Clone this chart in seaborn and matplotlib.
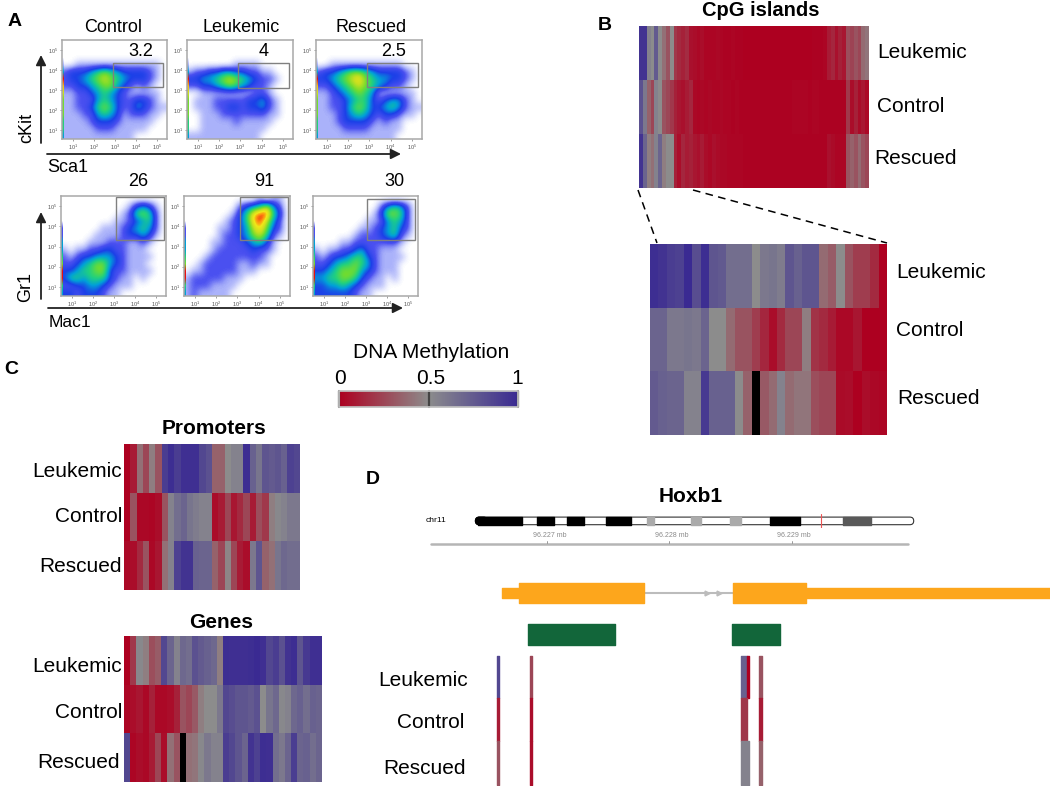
import numpy as np
import pandas as pd
import seaborn as sns
import matplotlib.pyplot as plt
from matplotlib.cm import ScalarMappable
from matplotlib.colors import LinearSegmentedColormap, Normalize
from matplotlib.patches import Rectangle, FancyBboxPatch

samples = ['Leukemic', 'Control', 'Rescued']

# methylation per column (None = no data, drawn black)
cpg_leukemic = [.95, .95, .55, .5, .75, .5, .4, .3, .5, .2, .15, .12, .16, .06, .05, .03, .05, .02, .02, .02,
                .03, .02, .01, .01, .02, .01, .01, 0, 0, 0, 0, 0, 0, 0, 0, 0, 0, 0, 0, 0,
                0, 0, 0, 0, 0, .01, .01, .01, .02, .1, .14, .06, .12, .08, .28, .24, .3, .25, .38, .42]
cpg_control = [.8, .6, .35, .25, .55, .5, .3, .25, .2, .12, .08, .06, .1, .14, .03, .02, .03, .02, .03, .02,
               .02, .03, .02, .02, .01, .02, .01, .01, .01, .01, .01, .01, .01, .01, .01, .01, .01, .01, .01, .01,
               .02, .02, .02, .02, .01, .02, .02, .01, .01, .01, .01, .01, .01, .01, .2, .05, .12, .04, .08, .03]
cpg_rescued = [.95, .7, .45, .4, .55, .7, .45, .5, .5, .12, .05, .14, .1, .12, .08, .06, .1, .05, .03, .06,
               .04, .03, .03, .02, .02, .02, .02, .01, .01, .01, .01, .01, .01, .01, .01, .01, .01, .01, .01, .01,
               .01, .01, .01, .01, .01, .01, .01, .01, .01, .06, .04, .02, .02, .02, .3, .35, .3, .38, .3, .25]

zoom_leukemic = [.98, .95, .9, .88, 1, .82, .98, .78, .76, .65, .65, .65, .5, .6,
                 .62, .58, .78, .72, .78, .78, .38, .33, .5, .3, .22, .22, .15, 0]
zoom_control = [.7, .7, .6, .6, .62, .6, .7, .5, .5, .38, .3, .3, .22, .14,
                .05, .15, .25, .25, .45, .18, .15, .1, .03, .03, .08, 0, 0, 0]
zoom_rescued = [.75, .72, .7, .7, .55, .55, .92, .72, .72, .72, .5, .35, None, .32,
                .38, .55, .38, .42, .42, .28, .25, .25, .04, .05, 0, .05, .03, .02]

prom_leukemic = [0, .1, .4, .25, .45, .3, .9, .98, .9, .97, .97, .97, .85, .8,
                 .35, .35, .5, .55, .55, .98, .72, .62, .78, .75, .78, .72, .88, .85]
prom_control = [0, .3, .03, .03, .02, .05, .3, .55, .65, .7, .62, .58, .55, .55,
                .05, .1, .25, .08, .15, .25, .1, .28, .2, .45, .52, .55, .6, .6]
prom_rescued = [.03, .05, .15, .3, .03, .08, .4, .55, .88, .95, .95, .72, .7, .7,
                .35, .25, .48, .25, .1, .05, .6, .78, .35, .4, .62, .68, .66, .66]

gene_leukemic = [0, .2, .52, .45, .28, .33, .85, .7, .55, .68, .65, .8, .75, .72, .68, .45,
                 .98, .97, .97, .97, .98, 1, .97, .85, .9, .8, .95, .98, .78, .92, .97, .97]
gene_control = [.02, .05, .08, .03, .12, .03, .03, .05, .12, .3, .25, .32, .45, .5, .5, .6,
                .85, .82, .78, .78, .75, .8, .5, .62, .68, .52, .55, .68, .72, .65, .72, .7]
gene_rescued = [.85, .02, .05, .03, .1, .25, .05, .4, .3, None, .4, .42, .52, .6, .55, .55,
                .9, .85, .78, .7, .95, .88, .98, .97, .65, .6, .7, .9, .7, .72, .65, .7]

# flow cytometry: coarse density of the dots per cell, 0 empty to 9 red
kit_control = ['0000000000000000', '0000000000000000', '0000000000000000', '0011111111111110',
               '2333456543333210', '2334567654333210', '2233456643212100', '1122345432111110',
               '1122245432233210', '1122356532243211', '1112245431222110', '1111233321111100',
               '1111122211111000', '1111111111100000']
kit_leukemic = ['0000000000000000', '0000000000000000', '0000000000000000', '0000000111100000',
                '1223344332211000', '3344567654322100', '2233456543221000', '0011111111221000',
                '0111222223342100', '0111223323342100', '0011122222221100', '0011111211111000',
                '0011111111110000', '1111111111100000']
kit_rescued = ['0000000000000000', '0000000000000000', '0000000000000000', '0011111111111000',
               '2334566543333210', '3345678654433210', '2234567654322100', '1123456541111110',
               '1122345532344210', '1122356533454211', '1112345432332110', '1112333321211000',
               '1111222211111000', '1111111111110000']
gr_control = ['0000000000000000', '0000000000134310', '0000000001256520', '0000000011234520',
              '0000001112345420', '0000011112334310', '0000111222112100', '1011223322111000',
              '2123344432111100', '2234566432111000', '3345566322111100', '3554555321101000',
              '2233443211100000', '3323332110000000']
gr_leukemic = ['0000000000010110', '0000000023457420', '0000000135899530', '0000001235897420',
               '0000011234786320', '0000012234675210', '0000112223453100', '0000122222322100',
               '0001222222221000', '0012222211211000', '0112222211100000', '1222221110000000',
               '1222111100000000', '1211111000000000']
gr_rescued = ['0000000000000000', '0000000000245420', '0000000001366520', '0000000011245420',
              '0000000112345320', '0000001222345210', '0000112222222100', '1011223422111000',
              '2123345532111100', '2234556542111000', '3345666432111000', '4455665321101000',
              '3344543211100000', '3333332110000000']
kit_edge = [0, 0, 0, 1, 4, 9, 8, 7, 6, 6, 6, 5, 5, 4]
gr_edge = [0, 0, 0, 0, 2, 2, 4, 4, 5, 6, 9, 9, 5, 4]

kit_percent = ['3.2', '4', '2.5']
gr_percent = ['26', '91', '30']
facs_titles = ['Control', 'Leukemic', 'Rescued']
kit_gates = [(2.9, 5.28, 3.15, 4.35), (2.9, 5.28, 3.1, 4.35), (2.9, 5.28, 3.15, 4.35)]
gr_gates = [(3.1, 5.4, 3.3, 5.45), (3.1, 5.4, 3.3, 5.45), (3.05, 5.35, 3.3, 5.35)]
decade_ticks = [1, 2, 3, 4, 5]
decade_labels = ['$10^1$', '$10^2$', '$10^3$', '$10^4$', '$10^5$']

# panel D, genome positions in Mb
idio_black = [(478, 522.1), (537.1, 553.8), (567, 583.8), (605.8, 630.5), (769.7, 799.6)]
idio_gray = [(647.2, 654.3), (690.8, 700.5), (729.6, 740.6)]
idio_dark = [(843.3, 871)]
scale_mb = [96.227, 96.228, 96.229]
scale_span_mb = [96.22605, 96.229946]
utr_mb = [(96.22663, 96.22677), (96.22912, 96.23111)]
exon_mb = [(96.22677, 96.22779), (96.22852, 96.22912)]
intron_mb = (96.22779, 96.22852)
arrow_mb = [96.228306, 96.228406]
cpg_mb = [(96.22685, 96.22756), (96.22851, 96.22890)]
site_mb = [(96.226590, 96.226606), (96.226859, 96.226875), (96.228585, 96.228632), (96.228632, 96.228650), (96.228730, 96.228755)]
site_leukemic = [.85, .25, .72, 1, .3]
site_control = [.1, .05, .2, None, .1]
site_rescued = [.3, .05, .55, .55, .35]

sns.set_theme(style='white')
plt.rcParams['font.family'] = ['Liberation Sans', 'DejaVu Sans']
plt.rcParams['mathtext.default'] = 'regular'

W, H = 1050, 786
fig = plt.figure(figsize=(W / 100, H / 100), dpi=100)
meth_cmap = LinearSegmentedColormap.from_list('meth', ['#ad0020', '#8c8c8c', '#3a2a92'])
facs_cmap = LinearSegmentedColormap.from_list('facs', [(0, '#ffffff'), (.11, '#aab2fa'), (.22, '#4a50f0'),
                                                       (.33, '#1c40e8'), (.44, '#00a0d8'), (.55, '#20d080'),
                                                       (.66, '#70dc30'), (.77, '#c8e020'), (.86, '#f0e818'),
                                                       (.93, '#ff8a10'), (1, '#e81010')])


def axes_px(x0, y0, x1, y1):
    return fig.add_axes([x0 / W, 1 - y1 / H, (x1 - x0) / W, (y1 - y0) / H])


def label(x, y, s, size=15, ha='center', **kw):
    fig.text(x / W, 1 - y / H, s, fontsize=size, ha=ha, va='center', color='black', **kw)


def arrow(x0, y0, x1, y1):
    fig.add_artist(plt.Annotation('', xy=(x1 / W, 1 - y1 / H), xytext=(x0 / W, 1 - y0 / H),
                                  xycoords='figure fraction', textcoords='figure fraction',
                                  arrowprops=dict(arrowstyle='-|>', color='#222222', lw=1.3,
                                                  mutation_scale=15, shrinkA=0, shrinkB=0)))


def meth_heatmap(box, rows):
    ax = axes_px(*box)
    df = pd.DataFrame(rows, index=samples, dtype=float)
    sns.heatmap(df, cmap=meth_cmap, vmin=0, vmax=1, cbar=False, xticklabels=False, yticklabels=False, ax=ax)
    ax.set_facecolor('black')
    ax.set_xlabel('')
    ax.set_ylabel('')
    return ax


def facs_panel(box, grid, edge, gate):
    ax = axes_px(*box)
    density = np.array([[int(c) for c in row] for row in grid], dtype=float)
    lims = (0.48, 5.48, 0.55, 5.5)
    ax.imshow(density, cmap=facs_cmap, vmin=0, vmax=9, extent=lims, aspect='auto', interpolation='bicubic')
    ax.imshow(np.array(edge, dtype=float).reshape(-1, 1), cmap=facs_cmap, vmin=0, vmax=9,
              extent=(0.48, 0.56, 0.55, 5.5), aspect='auto', interpolation='bilinear')
    ax.set_xlim(lims[0], lims[1])
    ax.set_ylim(lims[2], lims[3])
    ax.add_patch(Rectangle((gate[0], gate[2]), gate[1] - gate[0], gate[3] - gate[2], fill=False,
                           ec='#808080', lw=1))
    ax.set_xticks(decade_ticks, decade_labels)
    ax.set_yticks(decade_ticks, decade_labels)
    ax.tick_params(labelsize=4, length=1.5, width=.4, pad=1.5, colors='#555555', bottom=True, left=True)
    for s in ax.spines.values():
        s.set_color('#a8a8a8')
        s.set_linewidth(1.1)
    return ax


# panel A
kit_boxes = [(62, 40, 167, 139), (187, 40, 293, 139), (316, 40, 422, 139)]
gr_boxes = [(61, 196, 166, 296), (184, 196, 290, 296), (313, 196, 418, 296)]
for box, grid, gate in zip(kit_boxes, [kit_control, kit_leukemic, kit_rescued], kit_gates):
    facs_panel(box, grid, kit_edge, gate)
for box, grid, gate in zip(gr_boxes, [gr_control, gr_leukemic, gr_rescued], gr_gates):
    facs_panel(box, grid, gr_edge, gate)

for x, s in zip([113, 241, 371], facs_titles):
    label(x, 27, s, size=13)
for x, s in zip([141, 264, 394], kit_percent):
    label(x, 52, s, size=13)
for x, s in zip([138, 264, 394], gr_percent):
    label(x, 182, s, size=13)
label(27, 128, 'cKit', size=13, rotation=90)
label(26, 287, 'Gr1', size=13, rotation=90)
label(68, 168, 'Sca1', size=13)
label(70, 322, 'Mac1', size=12.5)
arrow(41, 143, 41, 55)
arrow(41, 299, 41, 212)
arrow(47, 154, 401, 154)
arrow(48, 308, 403, 308)

# panel B
meth_heatmap((639, 26, 869, 188), [cpg_leukemic, cpg_control, cpg_rescued])
meth_heatmap((650, 244, 887, 435), [zoom_leukemic, zoom_control, zoom_rescued])
label(761, 10, 'CpG islands', size=14.5, weight='bold')
for (x, y), s in zip([(877, 52), (877, 106), (874, 158)], samples):
    label(x, y, s, ha='left')
for (x, y), s in zip([(896, 272), (896, 331), (897, 399)], samples):
    label(x, y, s, ha='left')
for x0, y0, x1, y1 in [(638, 190, 657, 243), (693, 190, 887, 243)]:
    fig.add_artist(plt.Line2D([x0 / W, x1 / W], [1 - y0 / H, 1 - y1 / H], color='black', lw=1.1, ls=(0, (5, 3.5))))

# colour key
cax = axes_px(339, 391, 518, 407)
cb = fig.colorbar(ScalarMappable(Normalize(0, 1), meth_cmap), cax=cax, orientation='horizontal')
cb.set_ticks([])
cb.outline.set_edgecolor('#c0c0c0')
for v in [0, .5, 1]:
    cax.axvline(v, color='#444444', lw=1.6, clip_on=False)
label(431, 353, 'DNA Methylation')
for x, s in zip([340, 431, 517], ['0', '0.5', '1']):
    label(x, 379, s)

# panel C
meth_heatmap((124, 444, 300, 590), [prom_leukemic, prom_control, prom_rescued])
meth_heatmap((124, 636, 322, 782), [gene_leukemic, gene_control, gene_rescued])
label(214, 428, 'Promoters', weight='bold')
label(221, 622, 'Genes', weight='bold')
for (x, y), s in zip([(122, 471), (122, 517), (122, 566)], samples):
    label(x, y, s, ha='right')
for (x, y), s in zip([(122, 667), (122, 713), (120, 762)], samples):
    label(x, y, s, ha='right')

# panel D
label(8, 22, 'A', size=14, weight='bold', ha='left')
label(598, 26, 'B', size=14, weight='bold', ha='left')
label(4, 370, 'C', size=14, weight='bold', ha='left')
label(366, 480, 'D', size=14, weight='bold', ha='left')
label(691, 497, 'Hoxb1', weight='bold')
label(436, 520, 'chr11', size=6)

idio = axes_px(470, 514, 920, 528)
idio.set_xlim(470, 920)
idio.set_ylim(0, 14)
idio.axis('off')
idio.add_patch(FancyBboxPatch((475.4, 3.3), 438.3, 7.6, boxstyle='round,pad=0,rounding_size=3.8',
                              fc='white', ec='#333333', lw=.8))
idio.add_patch(FancyBboxPatch((475.4, 3.3), 12, 7.6, boxstyle='round,pad=0,rounding_size=3.8',
                              fc='black', ec='black', lw=.8))
for bands, col in [(idio_black, 'black'), (idio_gray, '#aaaaaa'), (idio_dark, '#595959')]:
    idio.broken_barh([(a, b - a) for a, b in bands], (3.3, 7.6), color=col)
idio.plot([821.2, 821.2], [0.5, 14], color='#ee5555', lw=.8)

track = axes_px(360, 530, 1050, 786)
track.set_xlim(96.225474, 96.231109)
track.set_ylim(786, 530)
track.axis('off')
track.plot(scale_span_mb, [544, 544], color='#b5b5b5', lw=1.8)
for mb in scale_mb:
    track.plot([mb, mb], [541, 543], color='#888888', lw=.6)
    track.text(mb + .00002, 535.5, f'{mb:.3f} mb', fontsize=5, color='#8a8a8a', ha='center', va='center')

track.plot(intron_mb, [593, 593], color='#bcbcbc', lw=1.5, zorder=1)
track.plot(arrow_mb, [593, 593], ls='', marker='>', ms=3.5, color='#bcbcbc')
track.broken_barh([(a, b - a) for a, b in utr_mb], (587.7, 10.6), color='#fda61c')
track.broken_barh([(a, b - a) for a, b in exon_mb], (583.3, 19.4), color='#fda61c')
track.broken_barh([(a, b - a) for a, b in cpg_mb], (624.3, 20.4), color='#12663a')

site_rows = [(655.7, 42.6, site_leukemic), (698.3, 42.4, site_control), (740.7, 44.3, site_rescued)]
for top, height, vals in site_rows:
    for (a, b), v in zip(site_mb, vals):
        if v is not None:
            track.broken_barh([(a, b - a)], (top, height), color=meth_cmap(v))

for (x, y), s in zip([(378, 681), (397, 723), (383, 768)], samples):
    label(x, y, s, ha='left')

fig.savefig('out.png', dpi=100)
